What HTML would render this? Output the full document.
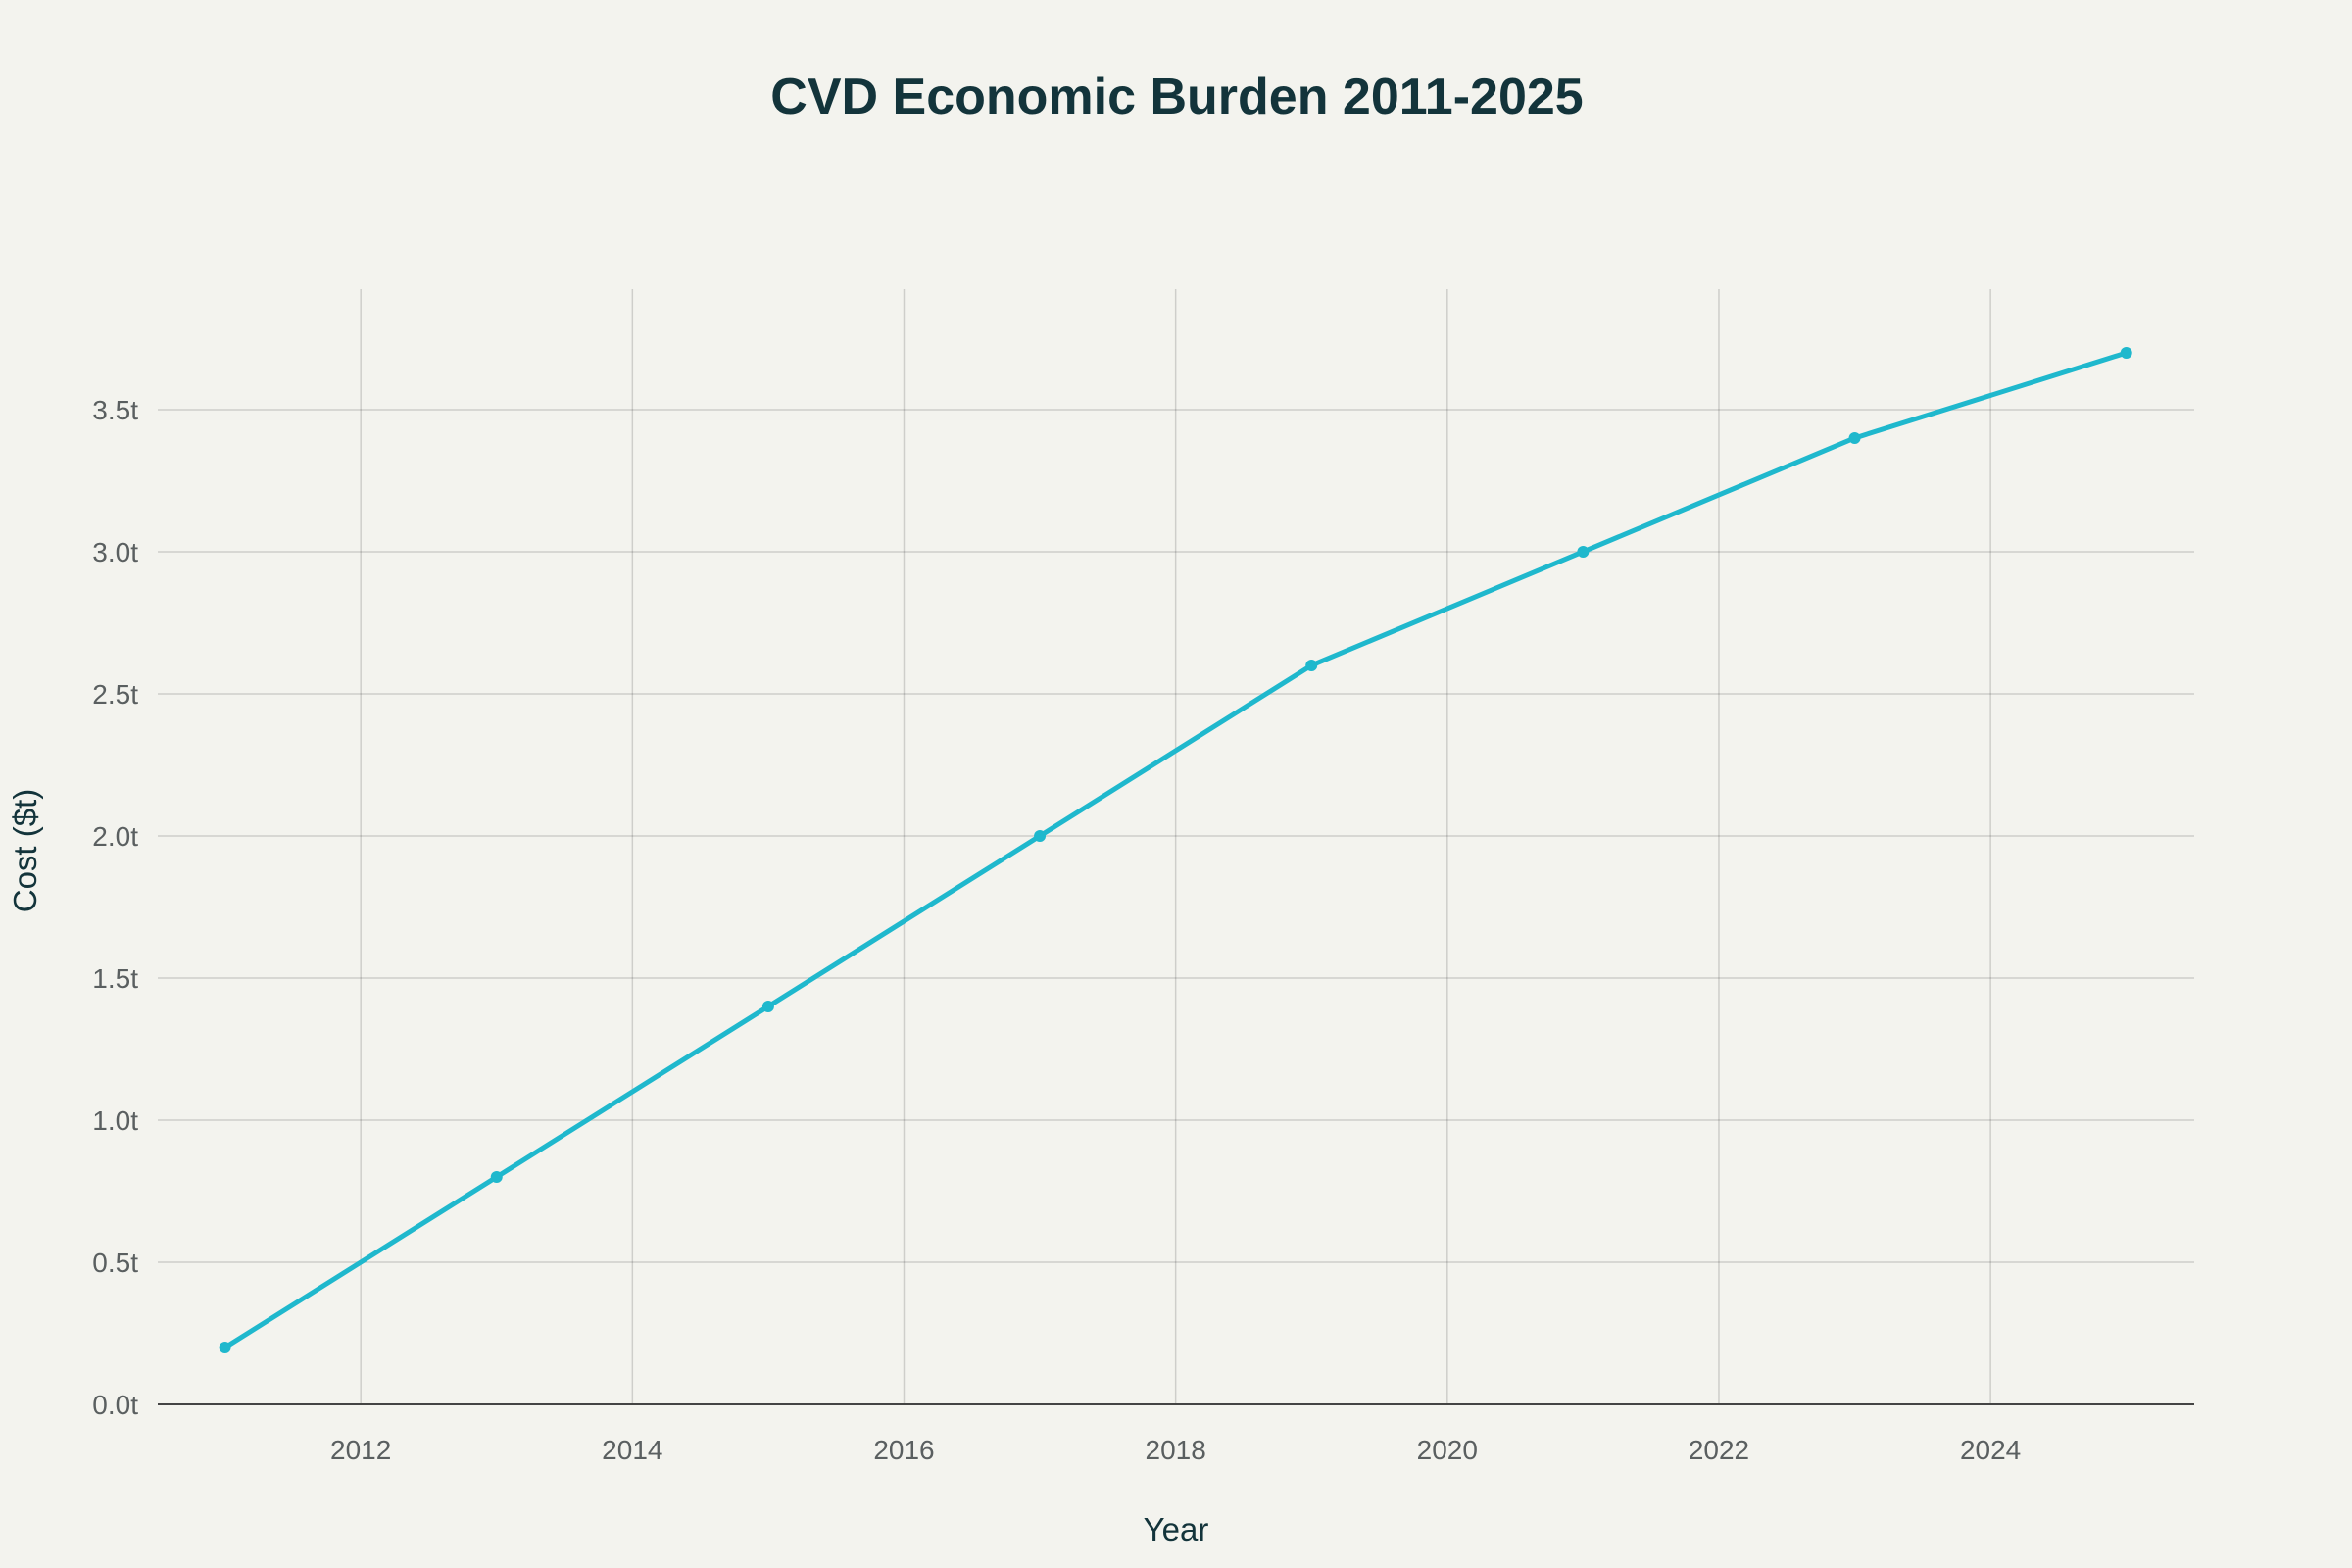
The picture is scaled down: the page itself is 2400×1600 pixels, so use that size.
<!DOCTYPE html>
<html><head><meta charset="utf-8"><style>
html,body{margin:0;padding:0;background:#f3f3ee;}
svg{display:block;font-family:"Liberation Sans",sans-serif;}
</style></head><body>
<svg id="chart" width="2400" height="1600" viewBox="0 0 2400 1600">
<rect width="2400" height="1600" fill="#f3f3ee"/>
<text x="1201" y="116" text-anchor="middle" font-size="52" font-weight="bold" fill="#13343b">CVD Economic Burden 2011-2025</text>
<g id="grid"></g>
<g id="ticks"></g>
<g id="series"></g>
<text x="1200" y="1572" text-anchor="middle" font-size="33" fill="#13343b">Year</text>
<text x="0" y="0" transform="translate(37,868) rotate(-90)" text-anchor="middle" font-size="33" fill="#13343b">Cost ($t)</text>
</svg>
<script>
const years = [2011, 2013, 2015, 2017, 2019, 2021, 2023, 2025];
const costs = [0.2, 0.8, 1.4, 2.0, 2.6, 3.0, 3.4, 3.7];
const xTicks = [2012, 2014, 2016, 2018, 2020, 2022, 2024];
const yTicks = [0, 0.5, 1, 1.5, 2, 2.5, 3, 3.5];
const yTickLabels = ["0.0t","0.5t","1.0t","1.5t","2.0t","2.5t","3.0t","3.5t"];

const L=161,R=2239,T=295,B=1433;
const xMin=2010.505,xMax=2025.5,yMin=0,yMax=3.924;
const xs=v=>L+(v-xMin)/(xMax-xMin)*(R-L);
const ys=v=>B-(v-yMin)/(yMax-yMin)*(B-T);
const NS="http://www.w3.org/2000/svg";
const grid=document.getElementById('grid'),ticks=document.getElementById('ticks'),series=document.getElementById('series');
function mk(tag,attrs,parent){const e=document.createElementNS(NS,tag);for(const k in attrs)e.setAttribute(k,attrs[k]);parent.appendChild(e);return e;}
xTicks.forEach(t=>{
  const l=mk('line',{x1:xs(t),x2:xs(t),y1:T,y2:B,stroke:'rgba(0,0,0,0.15)','stroke-width':1.5},grid);
  
  
  const tx=mk('text',{x:xs(t),y:B+56,'text-anchor':'middle','font-size':28,fill:'#5a5f60'},ticks);
  tx.textContent=t;
  
  
});
yTicks.forEach((t,i)=>{
  if(t>0){const l=mk('line',{x1:L,x2:R,y1:ys(t),y2:ys(t),stroke:'rgba(0,0,0,0.15)','stroke-width':1.5},grid);
  
  }
  const tx=mk('text',{x:L-20,y:ys(t)+10,'text-anchor':'end','font-size':28,fill:'#5a5f60'},ticks);
  tx.textContent=yTickLabels[i];
  
  
});
const ax=mk('line',{x1:L,x2:R,y1:ys(0),y2:ys(0),stroke:'#444','stroke-width':2},grid);


const pl=mk('polyline',{points:years.map((y,i)=>xs(y)+','+ys(costs[i])).join(' '),fill:'none',stroke:'#1fb8cd','stroke-width':5,'stroke-linejoin':'round'},series);


years.forEach((y,i)=>{
  const c=mk('circle',{cx:xs(y),cy:ys(costs[i]),r:6,fill:'#1fb8cd'},series);
  
  
});
</script>
</body></html>
